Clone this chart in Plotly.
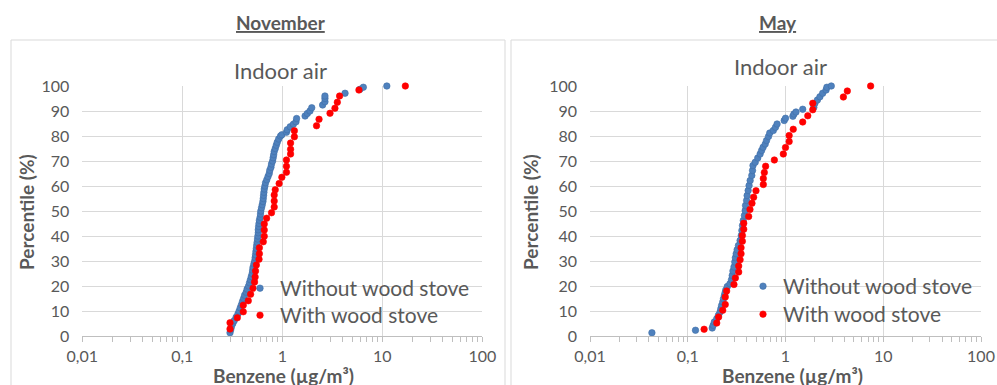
import plotly.graph_objects as go

# ---------------- data ----------------
nov_without_x = [0.30, 0.305, 0.31, 0.32, 0.33, 0.345, 0.36, 0.37, 0.38, 0.39, 0.40, 0.41, 0.42, 0.435,
                 0.445, 0.46, 0.47, 0.48, 0.49, 0.50, 0.505, 0.51, 0.52, 0.53, 0.535, 0.54, 0.545, 0.55,
                 0.555, 0.56, 0.565, 0.57, 0.575, 0.575, 0.58, 0.585, 0.59, 0.60, 0.605, 0.61, 0.62, 0.63,
                 0.64, 0.645, 0.65, 0.655, 0.66, 0.67, 0.68, 0.70, 0.72, 0.74, 0.75, 0.77, 0.78, 0.80,
                 0.81, 0.82, 0.83, 0.85, 0.87, 0.89, 0.92, 0.96, 0.99, 1.10, 1.12, 1.20, 1.29, 1.37,
                 1.39, 1.69, 1.78, 1.89, 1.97, 2.53, 2.67, 2.67, 2.67, 4.24, 5.98, 6.46, 11.1]
nov_without_y = [1.3, 2.5, 3.7, 5.0, 6.1, 7.5, 8.8, 10.0, 11.3, 12.5, 13.8, 15.0, 16.3, 17.5,
                 18.8, 20.0, 21.3, 22.5, 23.8, 25.0, 26.3, 27.5, 28.8, 30.0, 31.3, 32.5, 33.8, 35.0,
                 36.3, 37.5, 38.8, 40.0, 41.3, 42.5, 43.8, 45.0, 46.3, 47.5, 48.8, 50.0, 51.3, 52.5,
                 53.8, 55.0, 56.3, 57.5, 58.8, 60.0, 61.3, 62.5, 63.8, 65.0, 66.3, 67.5, 68.8, 70.0,
                 71.3, 72.5, 73.8, 75.0, 76.3, 77.5, 78.8, 80.0, 80.5, 81.5, 82.5, 83.7, 84.7, 85.7,
                 87.0, 88.0, 89.0, 90.0, 91.3, 92.4, 93.7, 95.0, 96.0, 97.1, 98.7, 99.5, 100.0]

nov_with_x = [0.30, 0.30, 0.355, 0.407, 0.407, 0.457, 0.482, 0.51, 0.528, 0.535, 0.54, 0.55, 0.585,
              0.59, 0.59, 0.645, 0.66, 0.66, 0.66, 0.697, 0.78, 0.83, 0.83, 0.83, 0.85, 0.93, 0.99,
              1.10, 1.10, 1.10, 1.21, 1.21, 1.21, 1.32, 1.32, 2.20, 2.33, 3.00, 3.36, 3.55, 3.74,
              5.84, 17.0]
nov_with_y = [2.8, 5.3, 7.3, 9.7, 12.3, 14.1, 16.7, 19.1, 21.6, 23.6, 26.0, 28.4, 30.7,
              32.9, 35.3, 37.7, 39.9, 42.4, 44.8, 47.1, 49.3, 51.6, 54.0, 56.4, 58.5, 61.0, 63.5,
              65.5, 67.9, 70.4, 72.8, 74.7, 77.2, 79.7, 82.1, 84.1, 86.7, 89.1, 91.1, 93.5, 96.0,
              98.4, 100.0]

may_without_x = [0.043, 0.12, 0.178, 0.182, 0.187, 0.198, 0.206, 0.214, 0.218, 0.222, 0.228, 0.232,
                 0.237, 0.241, 0.245, 0.254, 0.27, 0.28, 0.285, 0.29, 0.297, 0.303, 0.307, 0.313,
                 0.32, 0.33, 0.343, 0.353, 0.358, 0.363, 0.37, 0.38, 0.387, 0.39, 0.40, 0.405, 0.415,
                 0.424, 0.435, 0.452, 0.46, 0.465, 0.49, 0.52, 0.55, 0.57, 0.59, 0.62, 0.64, 0.67,
                 0.69, 0.75, 0.79, 0.82, 0.97, 1.0, 1.19, 1.22, 1.28, 1.50, 1.95, 2.0, 2.12, 2.25,
                 2.40, 2.60, 2.65, 2.94]
may_without_y = [1.3, 2.3, 3.2, 4.3, 5.6, 6.9, 8.3, 9.6, 10.9, 12.2, 13.6, 14.9,
                 16.2, 17.3, 18.4, 19.8, 20.9, 22.5, 24.2, 26.0, 27.6, 29.6, 31.3, 32.9,
                 34.5, 36.2, 38.2, 40.2, 42.2, 44.2, 46.2, 48.2, 50.2, 52.2, 54.2, 56.2, 58.2,
                 60.2, 62.2, 64.2, 66.2, 68.2, 69.5, 71.2, 72.8, 74.2, 75.5, 76.8, 78.2, 79.8,
                 81.2, 82.2, 83.5, 84.8, 86.2, 87.1, 87.9, 88.8, 89.6, 90.7, 91.5, 93.1, 94.4, 95.7,
                 97.1, 98.4, 99.5, 100.0]

may_with_x = [0.147, 0.198, 0.207, 0.228, 0.242, 0.242, 0.25, 0.297, 0.307, 0.332, 0.332, 0.343,
              0.351, 0.351, 0.362, 0.362, 0.374, 0.374, 0.42, 0.433, 0.454, 0.472, 0.499, 0.593,
              0.593, 0.607, 0.626, 0.769, 0.95, 1.0, 1.09, 1.09, 1.20, 1.50, 1.69, 1.90, 1.90,
              3.91, 4.29, 7.43]
may_with_y = [2.7, 5.2, 7.6, 10.3, 12.6, 15.6, 18.0, 20.6, 23.2, 25.6, 28.0, 30.5,
              32.9, 35.3, 37.9, 40.2, 42.7, 45.1, 47.8, 50.6, 53.1, 55.5, 58.1, 60.6,
              63.0, 65.4, 67.9, 70.4, 72.8, 75.4, 77.8, 80.2, 82.7, 85.6, 88.1, 90.5, 93.1,
              95.6, 98.0, 100.0]

series_names = ["Without wood stove", "With wood stove"]
panel_titles = ["November", "May"]
chart_title = "Indoor air"
x_title = "Benzene (µg/m³)"
y_title = "Percentile (%)"
x_tickvals = [0.01, 0.1, 1, 10, 100]
x_ticktext = ["0,01", "0,1", "1", "10", "100"]
y_tickvals = [0, 10, 20, 30, 40, 50, 60, 70, 80, 90, 100]

# ---------------- styling ----------------
W, H = 997, 385
FONT = "Lato"
TXT = "#595959"
GRID = "#D9D9D9"
BLUE = "#4F81BD"
RED = "#FF0000"

def px(x):
    return x / W

def py(y):
    return 1 - y / H

fig = go.Figure()

def add_series(xs, ys, name, color, xa, ya, legend, line_color):
    fig.add_trace(go.Scatter(
        x=xs, y=ys, mode="markers", name=name, xaxis=xa, yaxis=ya, legend=legend,
        marker=dict(size=6.5, color=color, line=dict(width=0.6, color=line_color)),
        hoverinfo="x+y", cliponaxis=False))

add_series(nov_without_x, nov_without_y, series_names[0], BLUE, "x", "y", "legend", "#3F6FA8")
add_series(nov_with_x, nov_with_y, series_names[1], RED, "x", "y", "legend2", RED)
add_series(may_without_x, may_without_y, series_names[0], BLUE, "x2", "y2", "legend3", "#3F6FA8")
add_series(may_with_x, may_with_y, series_names[1], RED, "x2", "y2", "legend4", RED)

ydom = [py(336), py(86)]

def xaxis_cfg(d0, d1, anchor):
    return dict(
        type="log", range=[-2, 2], domain=[px(d0), px(d1)], anchor=anchor,
        tickvals=x_tickvals, ticktext=x_ticktext,
        showgrid=True, gridcolor=GRID, gridwidth=1,
        showline=True, linecolor="#BFBFBF", linewidth=1,
        ticks="outside", ticklen=5, tickcolor="#BFBFBF",
        minor=dict(ticks="outside", ticklen=5, tickcolor="#BFBFBF", dtick="D1", showgrid=False),
        tickfont=dict(family=FONT, size=16, color=TXT),
        ticklabelstandoff=1, automargin=False,
        zeroline=False, fixedrange=True)

def yaxis_cfg(anchor):
    return dict(
        range=[0, 100], domain=ydom, anchor=anchor,
        tickvals=y_tickvals, showgrid=True, gridcolor=GRID, gridwidth=1,
        showline=False, ticks="", zeroline=False,
        tickfont=dict(family=FONT, size=16, color=TXT),
        ticklabelstandoff=12, automargin=False, fixedrange=True)

def legend_cfg(x, top):
    return dict(x=px(x), y=py(top), xanchor="left", yanchor="top",
                bgcolor="rgba(0,0,0,0)", font=dict(family=FONT, size=21, color=TXT),
                itemclick=False, itemdoubleclick=False)

fig.update_layout(
    width=W, height=H,
    margin=dict(l=0, r=0, t=0, b=0, autoexpand=False),
    paper_bgcolor="white", plot_bgcolor="white",
    font=dict(family=FONT, color=TXT),
    xaxis=xaxis_cfg(82.3, 482.3, "y"),
    yaxis=yaxis_cfg("x"),
    xaxis2=xaxis_cfg(590, 981, "y2"),
    yaxis2=yaxis_cfg("x2"),
    legend=legend_cfg(240, 268),
    legend2=legend_cfg(240, 295),
    legend3=legend_cfg(743, 266),
    legend4=legend_cfg(743, 294),
    showlegend=True,
)

# chart frames
fig.add_shape(type="rect", xref="paper", yref="paper", x0=px(11), x1=px(505), y0=-0.05, y1=py(40),
              line=dict(color=GRID, width=1), layer="below")
fig.add_shape(type="rect", xref="paper", yref="paper", x0=px(511), x1=px(1000), y0=-0.05, y1=py(40),
              line=dict(color=GRID, width=1), layer="below")

ann = []
for cx, t in [(281, panel_titles[0]), (778, panel_titles[1])]:
    ann.append(dict(x=px(cx), y=py(22), xref="paper", yref="paper", showarrow=False,
                    text="<b><u>" + t + "</u></b>", xanchor="center", yanchor="middle",
                    font=dict(family=FONT, size=19, color=TXT)))
for cx, cy in [(280, 70), (780, 67)]:
    ann.append(dict(x=px(cx), y=py(cy), xref="paper", yref="paper", showarrow=False,
                    text=chart_title, xanchor="center", yanchor="middle",
                    font=dict(family=FONT, size=22, color=TXT)))
for cx in [27, 531]:
    ann.append(dict(x=px(cx), y=py(212), xref="paper", yref="paper", showarrow=False,
                    text="<b>" + y_title + "</b>", textangle=-90, xanchor="center", yanchor="middle",
                    font=dict(family=FONT, size=19, color=TXT)))
for cx in [283, 792]:
    ann.append(dict(x=px(cx), y=py(362), xref="paper", yref="paper", showarrow=False,
                    text="<b>" + x_title + "</b>", xanchor="center", yanchor="top",
                    font=dict(family=FONT, size=19, color=TXT)))
fig.update_layout(annotations=ann)

fig.write_html("out.html", config=dict(displayModeBar=False))
